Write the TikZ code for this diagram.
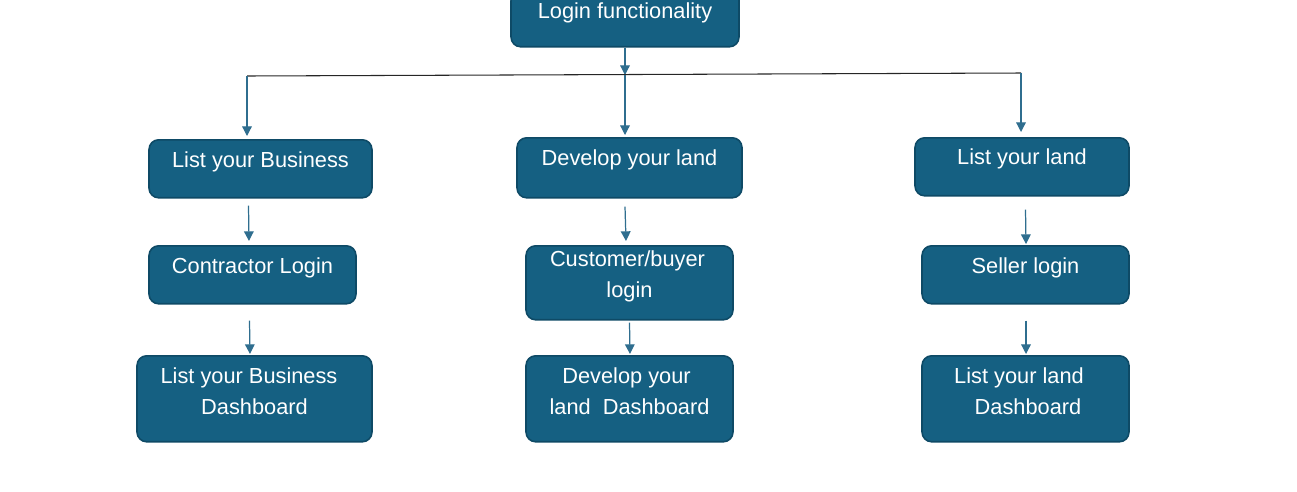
\documentclass[tikz,border=0pt]{standalone}
\usepackage{fontspec}
\setmainfont{Liberation Sans}
\usetikzlibrary{arrows.meta, calc}
\definecolor{boxblue}{HTML}{156082}
\definecolor{boxline}{HTML}{0E4A66}
\definecolor{freccia}{HTML}{2F6E8F}
\tikzset{
  riquadro/.style = {rectangle, rounded corners = 5.5pt, draw = boxline, line width = 0.9pt,
    fill = boxblue, text = white, font = \fontsize{12.4}{17.6}\selectfont,
    align = center, inner sep = 0pt, anchor = north},
  collega/.style = {draw = freccia, line width = 0.7pt, -{Triangle[length = 5.5pt, width = 5.5pt]}},
  linea/.style = {draw = black!85, line width = 0.6pt}
}
\begin{document}
\begin{tikzpicture}[x = 0.02cm, y = -0.02cm]
    \useasboundingbox (0,0) rectangle (1297,491);
    % Riquadri
    \node[riquadro, minimum width = 4.56cm, text height = 0.56cm, text depth = 0.56cm] (login) at (625,-10) {Login functionality};
    \node[riquadro, minimum width = 4.46cm, text height = 0.56cm, text depth = 0.60cm] (biz) at (260.5,139) {List your Business};
    \node[riquadro, minimum width = 4.50cm, text height = 0.56cm, text depth = 0.64cm] (dev) at (629.5,137) {Develop your land};
    \node[riquadro, minimum width = 4.28cm, text height = 0.54cm, text depth = 0.62cm] (land) at (1022,137) {List your land};
    \node[riquadro, minimum width = 4.14cm, text height = 0.56cm, text depth = 0.60cm] (contr) at (252.5,245) {Contractor Login};
    \node[riquadro, minimum width = 4.14cm, text height = 1.04cm, text depth = 0.44cm] (cust) at (629.5,245) {Customer/buyer\hspace*{0.08cm}\\login};
    \node[riquadro, minimum width = 4.14cm, text height = 0.56cm, text depth = 0.60cm] (seller) at (1025.5,245) {Seller login};
    \node[riquadro, minimum width = 4.70cm, text height = 1.18cm, text depth = 0.54cm] (bizdash) at (254.5,355) {List your Business\hspace*{0.22cm}\\Dashboard};
    \node[riquadro, minimum width = 4.14cm, text height = 1.18cm, text depth = 0.54cm] (devdash) at (629.5,355) {Develop your\hspace*{0.12cm}\\land\ \ Dashboard};
    \node[riquadro, minimum width = 4.14cm, text height = 1.18cm, text depth = 0.54cm] (landdash) at (1025.5,355) {List your land\hspace*{0.26cm}\\\hspace*{0.1cm}Dashboard};
    % Diramazione
    \coordinate (sx) at (247,76);
    \coordinate (cx) at (625,75);
    \coordinate (dx) at (1021,73);
    \draw[collega] (login.south) -- (cx);
    \draw[linea] (sx) -- (dx);
    \draw[collega, shorten > = 0.04cm] (cx) -- (cx |- dev.north);
    \draw[collega, shorten > = 0.06cm] (sx) -- (sx |- biz.north);
    \draw[collega, shorten > = 0.10cm] (dx) -- (dx |- land.north);
    % Frecce verticali
    \draw[collega] ($(biz.south)+(-12,7)$) -- ($(contr.north)+(-3.5,-4)$);
    \draw[collega] ($(contr.south)+(-3,16)$) -- ($(bizdash.north)+(-4.5,-1)$);
    \draw[collega] ($(dev.south)+(-4.5,8)$) -- ($(cust.north)+(-3.5,-4)$);
    \draw[collega] ($(cust.south)+(0,2)$) -- ($(devdash.north)+(0.5,-1)$);
    \draw[collega] ($(land.south)+(3.5,13)$) -- ($(seller.north)+(0.5,-1)$);
    \draw[collega] ($(seller.south)+(0.5,16)$) -- ($(landdash.north)+(0.5,-1)$);
\end{tikzpicture}
\end{document}
